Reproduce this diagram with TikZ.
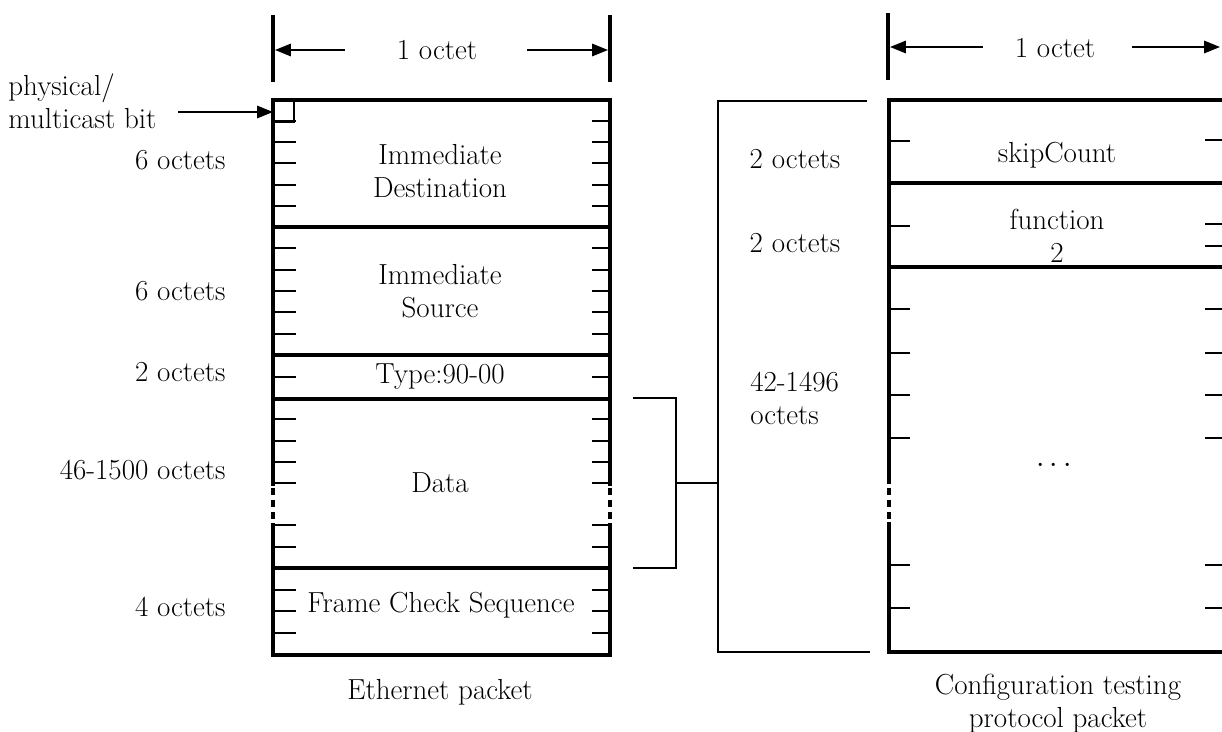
\documentclass[tikz,border=0pt]{standalone}
\usepackage{tikz}
\usetikzlibrary{positioning,arrows.meta}

\begin{document}
\begin{tikzpicture}[x=0.02cm,y=-0.02cm,
  frame/.style={line width=2.2pt},
  divider/.style={line width=1.8pt},
  tick/.style={line width=1.1pt},
  thinline/.style={line width=1.1pt},
  dimarrow/.style={line width=1.1pt,-{Triangle[length=9pt,width=7pt]}},
  txt/.style={font=\fontsize{16.5}{18.7}\selectfont,inner sep=0pt,align=center}]
\useasboundingbox (0,0) rectangle (1222,731);

% width markers
\draw[frame] (273,15) -- (273,82);
\draw[frame] (610,15) -- (610,82);
\node[txt] (octA) at (437,50) {1 octet};
\coordinate (octAl) at (345,50);
\coordinate (octAr) at (527,50);
\draw[dimarrow] (octAl) -- (275,50);
\draw[dimarrow] (octAr) -- (608,50);
\draw[frame] (888,13) -- (888,80);
\node[txt] (octB) at (1055,48) {1 octet};
\coordinate (octBl) at (983,47);
\coordinate (octBr) at (1132,47);
\draw[dimarrow] (octBl) -- (890,47);
\draw[dimarrow] (octBr) -- (1220,47);

% Ethernet packet
\draw[frame] (273,486) -- (273,100) -- (610,100) -- (610,486);
\draw[frame] (273,523) -- (273,655) -- (610,655) -- (610,523);
\foreach \x in {273,610}
  \foreach \y in {488,500,512}
    \draw[frame] (\x,\y) -- (\x,\y+7);
\foreach \y in {227,355,399,568}
  \draw[divider] (273,\y) -- (610,\y);
\foreach \y in {121,142,163,185,206,248,270,291,312,334,377,419,441,462,483,525,547,590,611,633} {
  \draw[tick] (273,\y) -- (296,\y);
  \draw[tick] (592,\y) -- (610,\y);
}
\draw[line width=0.9pt] (273,100) rectangle (294,122);
\coordinate (bit) at (273,112);

\node[txt] (dest) at (440,171) {Immediate\\Destination};
\node[txt] (src) at (440,291) {Immediate\\Source};
\node[txt] (type) at (440,377) {Type:90-00};
\node[txt] (data) at (440,483) {Data};
\node[txt,fill=white,inner xsep=2pt] (fcs) at (441,605) {Frame Check Sequence};
\node[txt] (ethcap) at (440,692) {Ethernet packet};

\node[txt,align=left,anchor=west] (phys) at (8,101) {physical/\\multicast bit};
\coordinate (physend) at (178,112);
\draw[dimarrow] (physend) -- (bit);
\node[txt,anchor=east] (lenA) at (226,160) {6 octets};
\node[txt,anchor=east] (lenB) at (226,291) {6 octets};
\node[txt,anchor=east] (lenC) at (226,372) {2 octets};
\node[txt,anchor=east] (lenD) at (226,470) {46-1500 octets};
\node[txt,anchor=east] (lenE) at (226,607) {4 octets};

% bracket from Data to the test packet
\coordinate (dtop) at (633,398);
\coordinate (dbot) at (633,568);
\coordinate (bmid) at (718,483);
\draw[thinline] (dtop) -- (676,398) -- (676,568) -- (dbot);
\draw[thinline] (676,483) -- (bmid);
\draw[thinline] (867,101) -- (718,101) -- (718,652) -- (870,652);
\node[txt] (lenF) at (795,159) {2 octets};
\node[txt] (lenG) at (795,243) {2 octets};
\node[txt,align=left,anchor=west] (lenH) at (750,398) {42-1496\\octets};

% Configuration testing protocol packet
\draw[frame] (889,484) -- (889,100) -- (1222,100);
\draw[frame] (889,522) -- (889,652) -- (1222,652);
\foreach \y in {488,500,512}
  \draw[frame] (889,\y) -- (889,\y+7);
\foreach \y in {183,267}
  \draw[divider] (889,\y) -- (1222,\y);
\foreach \y in {141,226,309,353,395,438,565,608}
  \draw[tick] (889,\y) -- (910,\y);
\foreach \y in {140,224,246,309,353,395,438,565,608}
  \draw[tick] (1205,\y) -- (1222,\y);

\node[txt] (skip) at (1057,155) {skipCount};
\node[txt] (func) at (1057,236) {function\\2};
\node[txt] (more) at (1054,466) {$\cdots$};
\node[txt] (ctpcap) at (1058,704) {Configuration testing\\protocol packet};
\end{tikzpicture}
\end{document}
